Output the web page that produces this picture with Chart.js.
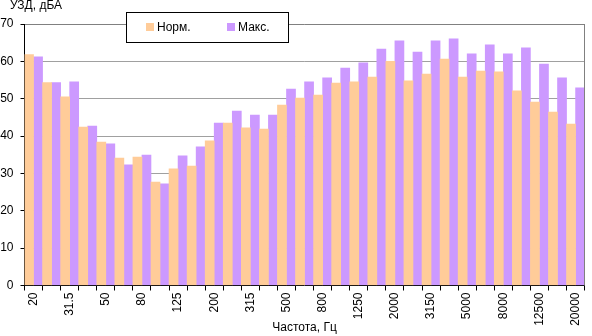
<!DOCTYPE html>
<html>
<head>
<meta charset="utf-8">
<script src="https://cdn.jsdelivr.net/npm/chart.js@4"></script>
<style>
  body { margin: 0; background: #fff; }
</style>
</head>
<body>
<canvas id="uzd" width="592" height="336"></canvas>
<script>
var freqs = ['20', '25', '31.5', '40', '50', '63', '80', '100', '125', '160', '200', '250', '315', '400', '500', '630',
    '800', '1000', '1250', '1600', '2000', '2500', '3150', '4000', '5000', '6300', '8000', '10000', '12500', '16000', '20000'];
var normValues = [61.8, 54.3, 50.5, 42.4, 38.4, 34.1, 34.4, 27.7, 31.2, 32.0, 38.7, 43.5, 42.2, 41.9, 48.3, 50.2,
    51.0, 54.2, 54.5, 55.8, 60.0, 54.8, 56.6, 60.6, 55.8, 57.4, 57.2, 52.1, 49.1, 46.4, 43.2];
var maxValues = [61.2, 54.3, 54.5, 42.7, 37.9, 32.3, 34.9, 27.2, 34.7, 37.1, 43.5, 46.7, 45.6, 45.6, 52.6, 54.5,
    55.6, 58.2, 59.6, 63.3, 65.5, 62.5, 65.5, 66.0, 62.0, 64.4, 62.0, 63.6, 59.3, 55.6, 52.9];
var yTitle = 'УЗД, дБА';

var FONT = '"Liberation Sans", Arial, sans-serif';
Chart.defaults.font.family = FONT;
Chart.defaults.font.size = 12;
Chart.defaults.color = '#000';

// right edge of the plot frame + y axis caption above the axis
var frame = {
    id: 'frame',
    afterDatasetsDraw: function (chart) {
        var a = chart.chartArea, c = chart.ctx;
        c.save();
        c.strokeStyle = '#808080';
        c.lineWidth = 1;
        c.beginPath();
        c.moveTo(Math.round(a.right) - 0.5, a.top);
        c.lineTo(Math.round(a.right) - 0.5, a.bottom);
        c.stroke();
        c.fillStyle = '#000';
        c.font = '12px ' + FONT;
        c.textBaseline = 'middle';
        c.fillText(yTitle, 10, 6);
        c.restore();
    }
};

// boxed legend sitting over the top of the plot
var boxLegend = {
    id: 'boxLegend',
    afterDraw: function (chart) {
        var c = chart.ctx;
        var ds = chart.data.datasets;
        var pos = [146, 227];
        c.save();
        c.fillStyle = '#fff';
        c.fillRect(126, 12, 162, 30);
        c.strokeStyle = '#000';
        c.lineWidth = 1;
        c.strokeRect(126.5, 12.5, 162, 30);
        c.font = '12px ' + FONT;
        c.textBaseline = 'middle';
        ds.forEach(function (d, i) {
            c.fillStyle = d.backgroundColor;
            c.fillRect(pos[i], 23, 8, 8);
            c.fillStyle = '#000';
            c.fillText(d.label, pos[i] + 11, 27.5);
        });
        c.restore();
    }
};

new Chart(document.getElementById('uzd'), {
    type: 'bar',
    data: {
        labels: freqs,
        datasets: [{
            label: 'Норм.',
            data: normValues,
            backgroundColor: '#FFCC99',
            borderWidth: 0
        },
        {
            label: 'Макс.',
            data: maxValues,
            backgroundColor: '#CC99FF',
            borderWidth: 0
        }]
    },
    options: {
        responsive: false,
        animation: false,
        categoryPercentage: 1,
        barPercentage: 1,
        layout: { padding: { left: 0, right: 1, top: 24, bottom: 0 } },
        plugins: {
            legend: { display: false },
            tooltip: { enabled: false }
        },
        scales: {
            x: {
                afterFit: function (scale) { scale.height = 50.5; },
                grid: {
                    offset: true,
                    drawOnChartArea: false,
                    drawTicks: true,
                    tickLength: 5,
                    tickColor: '#000'
                },
                border: { color: '#000' },
                ticks: {
                    autoSkip: false,
                    minRotation: 90,
                    maxRotation: 90,
                    padding: 2,
                    callback: function (v, i) { return i % 2 ? '' : freqs[i]; }
                },
                title: {
                    display: true,
                    text: 'Частота, Гц',
                    padding: { top: 0, bottom: 1 }
                }
            },
            y: {
                min: 0,
                max: 70,
                afterFit: function (scale) { scale.width = 24.5; },
                grid: {
                    color: function (ctx) { return ctx.tick.value === 70 ? '#808080' : '#a0a0a0'; },
                    tickColor: '#000',
                    tickLength: 4
                },
                border: { color: '#000' },
                ticks: { stepSize: 10, padding: 7 }
            }
        }
    },
    plugins: [frame, boxLegend]
});
</script>
</body>
</html>
